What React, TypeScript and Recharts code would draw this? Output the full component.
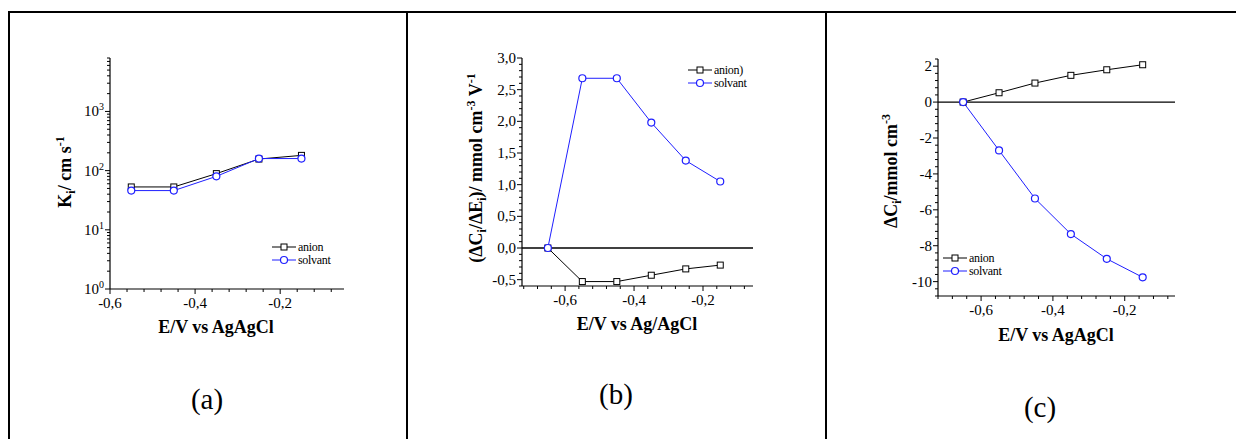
import React from 'react';
import { LineChart, Line, XAxis, YAxis, ReferenceLine, Legend } from 'recharts';

const FONT = "'Times New Roman', 'Liberation Serif', Tinos, 'Nimbus Roman', 'Noto Serif', 'DejaVu Serif', serif";
const BLUE = '#1f1fff';

// (a) K_i vs potential (log scale)
const potentialsA = [-0.55, -0.45, -0.35, -0.25, -0.15];
const kAnion = [53, 53, 89, 157, 181];
const kSolvant = [46, 46, 80, 160, 160];

// (b) and (c) share the potential steps
const potentialsBC = [-0.65, -0.55, -0.45, -0.35, -0.25, -0.15];
const slopeAnion = [0, -0.53, -0.53, -0.43, -0.33, -0.27];
const slopeSolvant = [0, 2.68, 2.68, 1.98, 1.38, 1.05];
const dcAnion = [0, 0.52, 1.06, 1.49, 1.8, 2.08];
const dcSolvant = [0, -2.69, -5.37, -7.35, -8.73, -9.76];

// tick labels
const xMajors = [-0.6, -0.4, -0.2];
const xLabels = ['-0,6', '-0,4', '-0,2'];
const kMajors = [1, 10, 100, 1000];
const kExponents = ['0', '1', '2', '3'];
const slopeMajors = [-0.5, 0, 0.5, 1, 1.5, 2, 2.5, 3];
const slopeLabels = ['-0,5', '0,0', '0,5', '1,0', '1,5', '2,0', '2,5', '3,0'];
const dcMajors = [-10, -8, -6, -4, -2, 0, 2];
const dcLabels = ['-10', '-8', '-6', '-4', '-2', '0', '2'];

const txt = { fontFamily: FONT };

// major + minor tick positions (4 minors between majors)
function linearTicks(lo: number, hi: number, step: number) {
  const out: number[] = [];
  for (let i = Math.ceil(lo / step - 1e-9); i * step <= hi + 1e-9; i++) out.push(+(i * step).toFixed(6));
  return out;
}
function logTicks(lo: number, hi: number) {
  const out: number[] = [];
  for (let d = 0; d < 5; d++) {
    for (let m = 1; m < 10; m++) {
      const v = m * Math.pow(10, d);
      if (v >= lo && v <= hi) out.push(v);
    }
  }
  return out;
}

function Tick(props: any) {
  const { x, y, payload, side, majors, labels, log } = props;
  const v = payload.value;
  const idx = majors.findIndex((m: number) => Math.abs(m - v) < 1e-6 * Math.max(1, Math.abs(m)));
  const len = idx >= 0 ? 5 : 3;
  let line;
  if (side === 'bottom' || side === 'top') line = <line x1={x} x2={x} y1={y} y2={y + len} stroke="#000" />;
  else line = <line x1={x} x2={x - len} y1={y} y2={y} stroke="#000" />;
  let label = null;
  if (idx >= 0 && labels) {
    if (side === 'bottom') {
      label = <text x={x} y={y + 19} textAnchor="middle" fontSize={15} fill="#000" style={txt}>{labels[idx]}</text>;
    } else if (side === 'left') {
      label = log ? (
        <text x={x - 6} y={y + 5} textAnchor="end" fontSize={15} fill="#000" style={txt}>
          10<tspan dy={-6} fontSize={10}>{labels[idx]}</tspan>
        </text>
      ) : (
        <text x={x - 6} y={y + 5} textAnchor="end" fontSize={15} fill="#000" style={txt}>{labels[idx]}</text>
      );
    }
  }
  return <g>{line}{label}</g>;
}

const squareDot = (p: any) => (
  <rect key={`sq-${p.index}`} x={p.cx - 3} y={p.cy - 3} width={6} height={6} fill="#fff" stroke="#000" strokeWidth={1} />
);
const circleDot = { r: 3.5, fill: '#fff', stroke: BLUE, strokeWidth: 1.2 };

function LegendBox({ names }: { names: string[] }) {
  return (
    <svg width={80} height={30} style={{ display: 'block' }}>
      <line x1={0} x2={24} y1={6} y2={6} stroke="#000" />
      <rect x={9} y={3} width={6} height={6} fill="#fff" stroke="#000" />
      <text x={26} y={10} fontSize={12} letterSpacing={-0.3} style={txt}>{names[0]}</text>
      <line x1={0} x2={24} y1={19} y2={19} stroke={BLUE} />
      <circle cx={12} cy={19} r={3.5} fill="#fff" stroke={BLUE} strokeWidth={1.2} />
      <text x={26} y={23} fontSize={12} letterSpacing={-0.3} style={txt}>{names[1]}</text>
    </svg>
  );
}

function XTitle({ posX, posY, text }: any) {
  return <text x={posX} y={posY} textAnchor="middle" fontSize={18} fontWeight="bold" fill="#000" style={txt}>{text}</text>;
}

function YTitle({ posX, posY, parts }: any) {
  return (
    <text transform={`translate(${posX},${posY}) rotate(-90)`} x={0} y={6} textAnchor="middle"
      fontSize={18} fontWeight="bold" fill="#000" style={txt}>
      {parts}
    </text>
  );
}

const sub = (s: string, k: string) => <tspan key={k} dy={4} fontSize={12}>{s}</tspan>;
const sup = (s: string, k: string, back = 4) => <tspan key={k} dy={-(back + 7)} fontSize={12}>{s}</tspan>;

function Panel(props: any) {
  const { left, width, plot, data, xDomain, xTicks, yDomain, yTicks, yMajors, yLabels, log,
    xTitle, yTitle, legend, legendNames, zeroLine } = props;
  const axisLine = { stroke: '#000', strokeWidth: 1.2 };
  const height = 439;
  return (
    <div style={{ position: 'absolute', left, top: 0 }}>
      <LineChart width={width} height={height} data={data}
        margin={{ top: plot.top, left: plot.left - 60, right: width - plot.right, bottom: height - plot.bottom - 30 }}>
        <XAxis xAxisId="b" dataKey="x" type="number" orientation="bottom" domain={xDomain} ticks={xTicks}
          allowDataOverflow interval={0} height={30} tickSize={0} tickMargin={0} tickLine={false} axisLine={axisLine}
          tick={(p: any) => <Tick {...p} side="bottom" majors={xMajors} labels={xLabels} />}
          label={<XTitle posX={xTitle.x} posY={xTitle.y} text={xTitle.text} />} />
        <XAxis xAxisId="t" dataKey="x" type="number" orientation="top" domain={xDomain} ticks={xTicks}
          allowDataOverflow interval={0} height={0} tickSize={0} tickMargin={0} tickLine={false} axisLine={axisLine}
          tick={(p: any) => <Tick {...p} side="top" majors={xMajors} />} />
        <YAxis yAxisId="l" type="number" orientation="left" domain={yDomain} ticks={yTicks}
          scale={log ? 'log' : 'linear'} allowDataOverflow interval={0} width={60} tickSize={0} tickMargin={0}
          tickLine={false} axisLine={axisLine}
          tick={(p: any) => <Tick {...p} side="left" majors={yMajors} labels={yLabels} log={log} />}
          label={<YTitle posX={yTitle.x} posY={yTitle.y} parts={yTitle.parts} />} />
        <YAxis yAxisId="r" type="number" orientation="right" domain={yDomain} ticks={yTicks}
          scale={log ? 'log' : 'linear'} allowDataOverflow interval={0} width={0} tickSize={0} tickMargin={0}
          tickLine={false} axisLine={axisLine}
          tick={(p: any) => <Tick {...p} side="right" majors={yMajors} />} />
        {zeroLine && <ReferenceLine xAxisId="b" yAxisId="l" y={0} stroke="#000" strokeWidth={1.3} />}
        <Line xAxisId="b" yAxisId="l" dataKey="anion" stroke="#000" strokeWidth={1} dot={squareDot}
          isAnimationActive={false} />
        <Line xAxisId="b" yAxisId="l" dataKey="solvant" stroke={BLUE} strokeWidth={1} dot={circleDot}
          isAnimationActive={false} />
        <Legend layout="vertical" align="center" verticalAlign="middle"
          wrapperStyle={{ left: legend.x, top: legend.y, width: 80 }}
          content={() => <LegendBox names={legendNames} />} />
      </LineChart>
    </div>
  );
}

export default function App() {
  const dataA = potentialsA.map((x, i) => ({ x, anion: kAnion[i], solvant: kSolvant[i] }));
  const dataB = potentialsBC.map((x, i) => ({ x, anion: slopeAnion[i], solvant: slopeSolvant[i] }));
  const dataC = potentialsBC.map((x, i) => ({ x, anion: dcAnion[i], solvant: dcSolvant[i] }));

  return (
    <div style={{ position: 'absolute', left: 0, top: 0, width: 1236, height: 439, background: '#fff', fontFamily: FONT }}>
      <svg width={1236} height={439} style={{ position: 'absolute', left: 0, top: 0 }}>
        <line x1={8} x2={1236} y1={12} y2={12} stroke="#000" strokeWidth={2} />
        <line x1={9} x2={9} y1={11} y2={439} stroke="#000" strokeWidth={2} />
        <line x1={407} x2={407} y1={11} y2={439} stroke="#000" strokeWidth={2} />
        <line x1={826} x2={826} y1={11} y2={439} stroke="#000" strokeWidth={2} />
        <text x={207} y={409} textAnchor="middle" fontSize={29} style={txt}>(a)</text>
        <text x={616} y={404} textAnchor="middle" fontSize={29} style={txt}>(b)</text>
        <text x={1040} y={417} textAnchor="middle" fontSize={29} style={txt}>(c)</text>
      </svg>

      <Panel left={0} width={407} plot={{ left: 110, right: 344, top: 58, bottom: 289 }} data={dataA}
        xDomain={[-0.6, -0.05]} xTicks={linearTicks(-0.6, -0.05, 0.04)}
        yDomain={[1, 8000]} yTicks={logTicks(1, 8000)} yMajors={kMajors} yLabels={kExponents} log
        xTitle={{ x: 216, y: 333, text: 'E/V vs AgAgCl' }}
        yTitle={{ x: 65, y: 172, parts: ['K', sub('i', 's1'), <tspan key="t1" dy={-4}>/ cm s</tspan>, sup('-1', 'p1', 0)] }}
        legend={{ x: 272, y: 241 }} legendNames={['anion', 'solvant']} />

      <Panel left={407} width={419} plot={{ left: 115, right: 346, top: 58, bottom: 286 }} data={dataB}
        xDomain={[-0.725, -0.055]} xTicks={linearTicks(-0.725, -0.055, 0.04)}
        yDomain={[-0.6, 3.0]} yTicks={linearTicks(-0.6, 3.0, 0.1)} yMajors={slopeMajors} yLabels={slopeLabels}
        xTitle={{ x: 230, y: 330, text: 'E/V vs Ag/AgCl' }}
        yTitle={{
          x: 69, y: 168,
          parts: ['(ΔC', sub('i', 's1'), <tspan key="t1" dy={-4}>/ΔE</tspan>, sub('i', 's2'),
            <tspan key="t2" dy={-4}>)/ mmol cm</tspan>, sup('-3', 'p1', 0),
            <tspan key="t3" dy={7}> V</tspan>, sup('-1', 'p2', 0)],
        }}
        legend={{ x: 281, y: 64 }} legendNames={['anion)', 'solvant']} zeroLine />

      <Panel left={826} width={410} plot={{ left: 112, right: 349, top: 59, bottom: 296 }} data={dataC}
        xDomain={[-0.72, -0.06]} xTicks={linearTicks(-0.72, -0.06, 0.04)}
        yDomain={[-10.8, 2.4]} yTicks={linearTicks(-10.8, 2.4, 0.4)} yMajors={dcMajors} yLabels={dcLabels}
        xTitle={{ x: 230, y: 341, text: 'E/V vs AgAgCl' }}
        yTitle={{ x: 65, y: 171, parts: ['ΔC', sub('i', 's1'), <tspan key="t1" dy={-4}>/mmol cm</tspan>, sup('-3', 'p1', 0)] }}
        legend={{ x: 117, y: 252 }} legendNames={['anion', 'solvant']} zeroLine />
    </div>
  );
}
